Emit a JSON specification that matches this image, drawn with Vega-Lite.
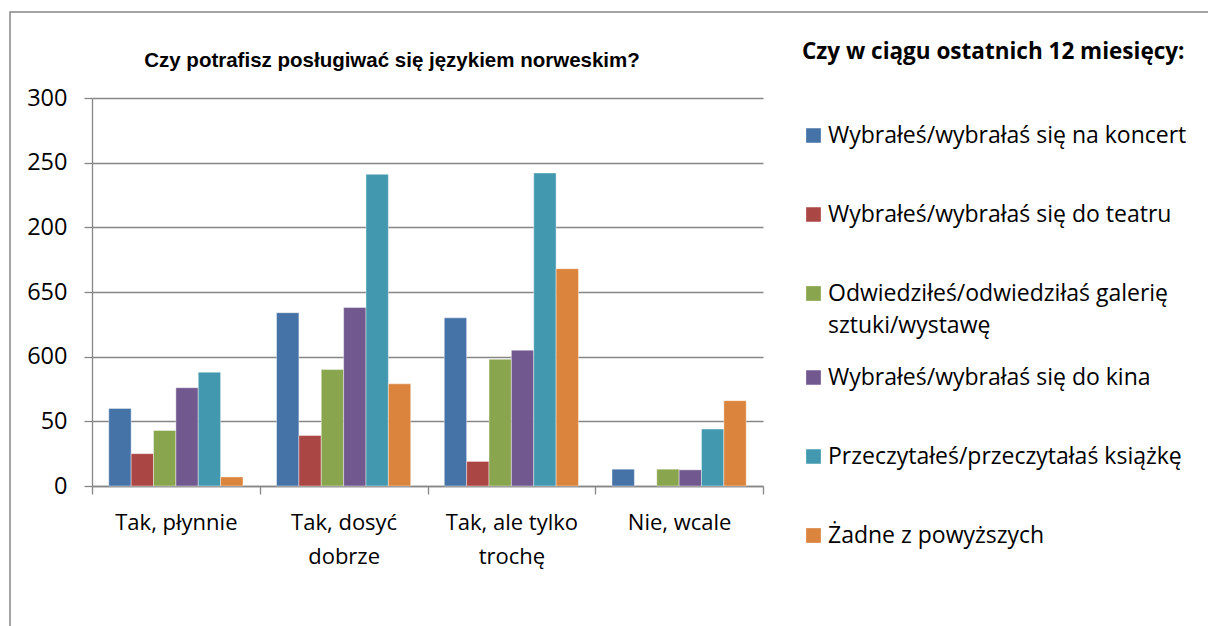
{
  "$schema": "https://vega.github.io/schema/vega-lite/v6.json",
  "width": 1202,
  "height": 618,
  "autosize": {"type": "none"},
  "padding": {"left": 10, "top": 12, "right": -4, "bottom": -4},
  "background": "white",
  "config": {
    "view": {"stroke": "#868686", "strokeWidth": 1.5},
    "font": "Open Sans",
    "style": {"guide-label": {"lineHeight": 32.5}}
  },
  "title": {
    "text": "Czy potrafisz posługiwać się językiem norweskim?",
    "font": "Liberation Sans",
    "fontSize": 20.5,
    "fontWeight": "bold",
    "color": "#000000",
    "anchor": "middle",
    "frame": "group",
    "baseline": "alphabetic",
    "offset": 0,
    "dx": -219,
    "dy": 75
  },
  "data": {
    "values": [
      {"kategoria": "Tak, płynnie", "seria": "Wybrałeś/wybrałaś się na koncert", "wartosc": 60},
      {"kategoria": "Tak, płynnie", "seria": "Wybrałeś/wybrałaś się do teatru", "wartosc": 25},
      {"kategoria": "Tak, płynnie", "seria": "Odwiedziłeś/odwiedziłaś galerię sztuki/wystawę", "wartosc": 43},
      {"kategoria": "Tak, płynnie", "seria": "Wybrałeś/wybrałaś się do kina", "wartosc": 76},
      {"kategoria": "Tak, płynnie", "seria": "Przeczytałeś/przeczytałaś książkę", "wartosc": 88},
      {"kategoria": "Tak, płynnie", "seria": "Żadne z powyższych", "wartosc": 7},
      {"kategoria": "Tak, dosyć dobrze", "seria": "Wybrałeś/wybrałaś się na koncert", "wartosc": 134},
      {"kategoria": "Tak, dosyć dobrze", "seria": "Wybrałeś/wybrałaś się do teatru", "wartosc": 39},
      {"kategoria": "Tak, dosyć dobrze", "seria": "Odwiedziłeś/odwiedziłaś galerię sztuki/wystawę", "wartosc": 90},
      {"kategoria": "Tak, dosyć dobrze", "seria": "Wybrałeś/wybrałaś się do kina", "wartosc": 138},
      {"kategoria": "Tak, dosyć dobrze", "seria": "Przeczytałeś/przeczytałaś książkę", "wartosc": 241},
      {"kategoria": "Tak, dosyć dobrze", "seria": "Żadne z powyższych", "wartosc": 79},
      {"kategoria": "Tak, ale tylko trochę", "seria": "Wybrałeś/wybrałaś się na koncert", "wartosc": 130},
      {"kategoria": "Tak, ale tylko trochę", "seria": "Wybrałeś/wybrałaś się do teatru", "wartosc": 19},
      {"kategoria": "Tak, ale tylko trochę", "seria": "Odwiedziłeś/odwiedziłaś galerię sztuki/wystawę", "wartosc": 98},
      {"kategoria": "Tak, ale tylko trochę", "seria": "Wybrałeś/wybrałaś się do kina", "wartosc": 105},
      {"kategoria": "Tak, ale tylko trochę", "seria": "Przeczytałeś/przeczytałaś książkę", "wartosc": 242},
      {"kategoria": "Tak, ale tylko trochę", "seria": "Żadne z powyższych", "wartosc": 168},
      {"kategoria": "Nie, wcale", "seria": "Wybrałeś/wybrałaś się na koncert", "wartosc": 13},
      {"kategoria": "Nie, wcale", "seria": "Odwiedziłeś/odwiedziłaś galerię sztuki/wystawę", "wartosc": 13},
      {"kategoria": "Nie, wcale", "seria": "Wybrałeś/wybrałaś się do kina", "wartosc": 12.5},
      {"kategoria": "Nie, wcale", "seria": "Przeczytałeś/przeczytałaś książkę", "wartosc": 44},
      {"kategoria": "Nie, wcale", "seria": "Żadne z powyższych", "wartosc": 66}
    ]
  },
  "mark": {"type": "bar", "stroke": "#ffffff", "strokeWidth": 0.6, "strokeOpacity": 0.7},
  "encoding": {
    "x": {
      "field": "kategoria",
      "type": "nominal",
      "sort": ["Tak, płynnie", "Tak, dosyć dobrze", "Tak, ale tylko trochę", "Nie, wcale"],
      "scale": {"range": [82, 753], "paddingInner": 0, "paddingOuter": 0},
      "axis": {
        "orient": "bottom",
        "offset": -144,
        "title": null,
        "labelAngle": 0,
        "labelFont": "Open Sans",
        "labelFontSize": 22,
        "labelColor": "#000000",
        "labelBaseline": "top",
        "labelPadding": 18,
        "labelLineHeight": 34,
        "labelLimit": 0,
        "labelExpr": "datum.value === 'Tak, dosyć dobrze' ? ['Tak, dosyć', 'dobrze'] : datum.value === 'Tak, ale tylko trochę' ? ['Tak, ale tylko', 'trochę'] : datum.label",
        "tickBand": "extent",
        "ticks": true,
        "tickSize": 8,
        "tickColor": "#868686",
        "tickWidth": 1.3,
        "domainColor": "#868686",
        "domainWidth": 1.3,
        "grid": false
      }
    },
    "xOffset": {
      "field": "seria",
      "type": "nominal",
      "sort": ["Wybrałeś/wybrałaś się na koncert", "Wybrałeś/wybrałaś się do teatru", "Odwiedziłeś/odwiedziłaś galerię sztuki/wystawę", "Wybrałeś/wybrałaś się do kina", "Przeczytałeś/przeczytałaś książkę", "Żadne z powyższych"],
      "scale": {"domain": ["Wybrałeś/wybrałaś się na koncert", "Wybrałeś/wybrałaś się do teatru", "Odwiedziłeś/odwiedziłaś galerię sztuki/wystawę", "Wybrałeś/wybrałaś się do kina", "Przeczytałeś/przeczytałaś książkę", "Żadne z powyższych"], "paddingInner": 0, "paddingOuter": 0.75}
    },
    "y": {
      "field": "wartosc",
      "type": "quantitative",
      "scale": {"domain": [0, 300], "range": [474, 86], "nice": false, "zero": true},
      "axis": {
        "orient": "left",
        "offset": -82,
        "title": null,
        "values": [0, 50, 100, 150, 200, 250, 300],
        "labelExpr": "datum.value === 100 ? '600' : datum.value === 150 ? '650' : datum.label",
        "labelFont": "Open Sans",
        "labelFontSize": 23.5,
        "labelColor": "#000000",
        "labelPadding": 17,
        "labelOverlap": false,
        "labelFlush": false,
        "labelBound": false,
        "grid": true,
        "gridColor": "#868686",
        "gridWidth": 1.3,
        "domainColor": "#868686",
        "domainWidth": 1.3,
        "tickColor": "#868686",
        "tickWidth": 1.3,
        "tickSize": 8
      }
    },
    "color": {
      "field": "seria",
      "type": "nominal",
      "sort": ["Wybrałeś/wybrałaś się na koncert", "Wybrałeś/wybrałaś się do teatru", "Odwiedziłeś/odwiedziłaś galerię sztuki/wystawę", "Wybrałeś/wybrałaś się do kina", "Przeczytałeś/przeczytałaś książkę", "Żadne z powyższych"],
      "scale": {
        "domain": ["Wybrałeś/wybrałaś się na koncert", "Wybrałeś/wybrałaś się do teatru", "Odwiedziłeś/odwiedziłaś galerię sztuki/wystawę", "Wybrałeś/wybrałaś się do kina", "Przeczytałeś/przeczytałaś książkę", "Żadne z powyższych"],
        "range": ["#4572A7", "#AA4643", "#89A54E", "#71588F", "#4198AF", "#DB843D"]
      },
      "legend": {
        "title": "Czy w ciągu ostatnich 12 miesięcy:",
        "orient": "none",
        "legendX": 792,
        "legendY": 28.5,
        "padding": 0,
        "titleFont": "Open Sans",
        "titleFontSize": 22.5,
        "titleFontWeight": "bold",
        "titleColor": "#000000",
        "titlePadding": 33,
        "titleLimit": 0,
        "labelFont": "Open Sans",
        "labelFontSize": 23,
        "labelColor": "#000000",
        "labelLimit": 0,
        "labelOffset": 3,
        "symbolType": "square",
        "symbolSize": 216,
        "symbolStrokeWidth": 0,
        "symbolOpacity": 1,
        "clipHeight": 79,
        "rowPadding": 0,
        "labelExpr": "datum.value === 'Odwiedziłeś/odwiedziłaś galerię sztuki/wystawę' ? ['Odwiedziłeś/odwiedziłaś galerię', 'sztuki/wystawę'] : datum.label",
        "encode": {
          "labels": {
            "enter": {
              "lineHeight": {"value": 32.5}
            },
            "update": {
              "lineHeight": {"value": 32.5},
              "dy": {"signal": "datum.value === 'Odwiedziłeś/odwiedziłaś galerię sztuki/wystawę' ? 16.25 : 0"}
            }
          }
        }
      }
    }
  }
}
